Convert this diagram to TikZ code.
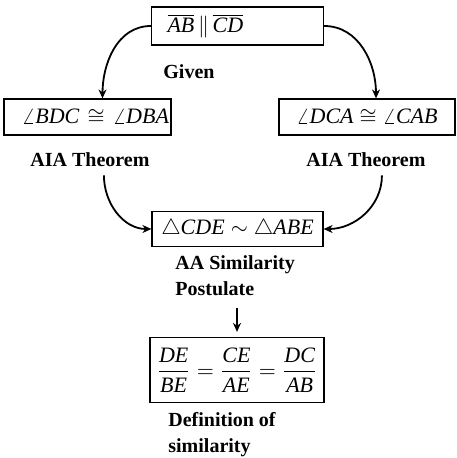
\documentclass[tikz,border=0pt]{standalone}
\usepackage{amsmath}
\usepackage{fontspec}
\setmainfont{Liberation Serif}
\usetikzlibrary{arrows.meta,positioning}

\newcommand{\ptname}[1]{\textit{#1}}

\begin{document}
\begin{tikzpicture}[x=0.5pt, y=-0.5pt,
        stmt/.style={rectangle, draw, line width=0.6pt, inner ysep=2pt,
            minimum height=18pt, font=\fontsize{11}{12}\selectfont},
        reason/.style={font=\fontsize{10}{13}\selectfont\bfseries, align=left, inner sep=0pt},
        rel/.style={-{Stealth[length=4.5pt, width=4pt]}, line width=0.9pt},
    ]
        \useasboundingbox (0,0) rectangle (456,458);

        % Given
        \node[stmt, minimum height=19pt, inner xsep=8pt, text width=70pt, align=left] (given) at (237.5,26)
            {$\overline{\ptname{AB}}\,\|\,\overline{\ptname{CD}}$};
        \node[reason, anchor=west] (givenlbl) at (163,72) {Given};

        % Alternate interior angles
        \node[stmt, inner xsep=1pt, text width=81.5pt, align=right] (bdc) at (87.5,117)
            {$\angle\ptname{BDC}\cong\angle\ptname{DBA}$};
        \node[stmt, minimum width=88pt] (dca) at (367,117) {$\angle\ptname{DCA}\cong\angle\ptname{CAB}$};
        \node[reason, anchor=west] (aiaL) at (30,160) {AIA Theorem};
        \node[reason, anchor=west] (aiaR) at (306,160) {AIA Theorem};

        % Similar triangles
        \node[stmt, minimum width=85.5pt, minimum height=17.5pt] (sim) at (237.5,229)
            {$\triangle\ptname{CDE}\sim\triangle\ptname{ABE}$};
        \node[reason, anchor=west] (aa) at (175,276) {AA Similarity\\Postulate};

        % Proportional sides
        \node[stmt, minimum width=86pt, minimum height=32.5pt] (ratio) at (237,370)
            {$\dfrac{\ptname{DE}}{\ptname{BE}}=\dfrac{\ptname{CE}}{\ptname{AE}}=\dfrac{\ptname{DC}}{\ptname{AB}}$};
        \node[reason, anchor=west] (defn) at (168,435) {Definition of\\similarity};

        % Arrows
        \draw[rel] (given.west) to[out=180, in=90] ([xshift=7.5pt]bdc.north);
        \draw[rel] (given.east) to[out=0, in=90] ([xshift=4.5pt]dca.north);
        \draw[rel] ([xshift=7pt, yshift=-4pt]aiaL.south) to[out=-90, in=180] (sim.west);
        \draw[rel] ([xshift=8pt, yshift=-4pt]aiaR.south) to[out=-90, in=0] (sim.east);
        \draw[rel] ([yshift=-6pt]ratio.north |- aa.south) -- ([yshift=2.5pt]ratio.north);
    \end{tikzpicture}
\end{document}
